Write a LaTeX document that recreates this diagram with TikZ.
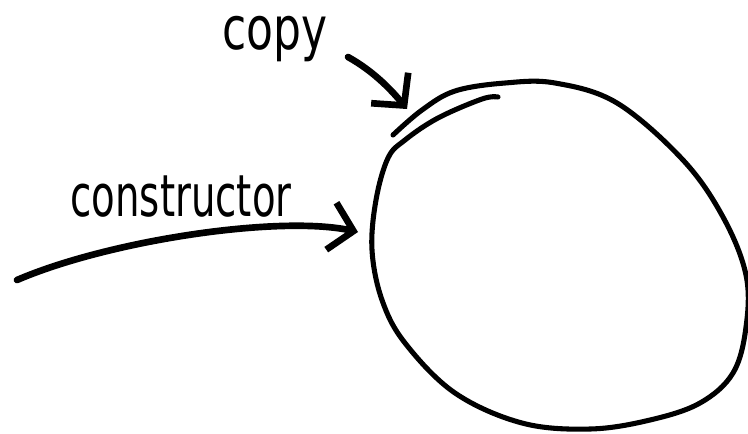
\documentclass[tikz,border=0pt]{standalone}
\usepackage{fontspec}
\usepackage{graphicx}
\setmainfont{DejaVu Sans}
\usetikzlibrary{arrows.meta}

\begin{document}
\begin{tikzpicture}[
    x=0.75pt, y=-0.75pt,
    line cap=round, line join=round,
    hand/.style    ={inner sep=0pt},
    objline/.style ={line width=3.8pt},
    arr/.style     ={line width=5pt,
                     -{Straight Barb[length=17pt, width=36pt, line width=5pt]}}
]
\useasboundingbox (0,0) rectangle (748,433);

% =================== the object (hand drawn egg) ===================
\draw[objline] plot[smooth, tension=0.6] coordinates {
    (498,97) (482,99) (438,118) (405,140) (388,158) (376,200) (372,250)
    (382,300) (405,343) (455,393) (522,423) (590,429) (650,420) (700,403)
    (733,373) (746,327) (746,275) (723,217) (683,160) (617,103) (555,83)
    (505,83) (455,91) (422,110) (393,135)};

\coordinate (copytip)   at (407,109);
\coordinate (ctortip)   at (358,232);

% =================== labels ===================
\node[hand, anchor=base] (copy) at (275,49)
    {\fontsize{33}{40}\selectfont\scalebox{1}[1.35]{copy}};
\node[hand, anchor=base] (ctor) at (181,216)
    {\fontsize{29}{35}\selectfont\scalebox{1}[1.5]{constructor}};

% =================== arrows ===================
\coordinate (copystart) at (348,57);
\coordinate (ctorstart) at (17,280);

\draw[arr] (copystart) .. controls (375,72) and (393,92) .. (copytip);
\draw[arr] (ctorstart) .. controls (110,240) and (280,215) .. (ctortip);

\end{tikzpicture}
\end{document}
